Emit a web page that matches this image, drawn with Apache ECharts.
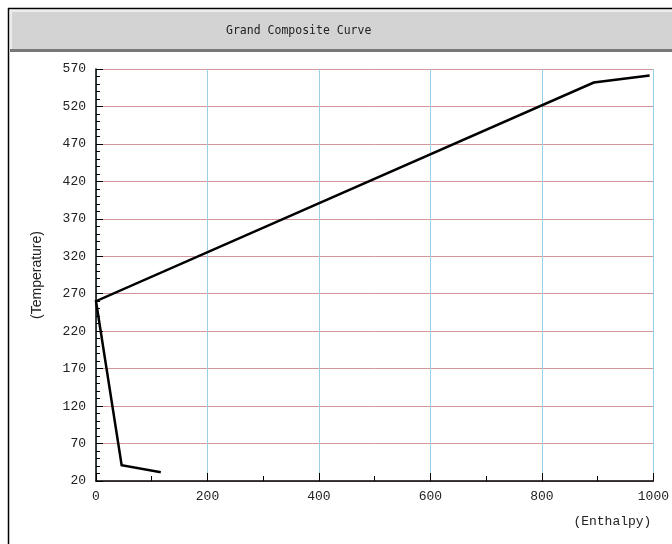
<!DOCTYPE html>
<html>
<head>
<meta charset="utf-8">
<script src="https://cdn.jsdelivr.net/npm/echarts@6/dist/echarts.min.js"></script>
<style>
html,body{margin:0;padding:0;background:#fff;}
#chart{width:672px;height:544px;}
</style>
</head>
<body>
<div id="chart"></div>
<script>
// Data
const titleText = "Grand Composite Curve";
const xAxisName = "(Enthalpy)";
const yAxisName = "(Temperature)";
const enthalpy    = [114, 46, 0, 893, 991];
const temperature = [32, 41, 260, 552, 561];
const xTicks = [0, 200, 400, 600, 800, 1000];
const yTicks = [20, 70, 120, 170, 220, 270, 320, 370, 420, 470, 520, 570];

const points = enthalpy.map((x, i) => [x, temperature[i]]);
const mono = "'DejaVu Sans Mono', 'Liberation Mono', monospace";
const mono2 = "'Liberation Mono', 'DejaVu Sans Mono', monospace";

const chart = echarts.init(document.getElementById('chart'), null, {renderer: 'canvas'});
chart.setOption({
  animation: false,
  backgroundColor: '#ffffff',
  graphic: [
    {type: 'rect', z: -10, shape: {x: 10, y: 10, width: 662, height: 42}, style: {fill: '#d3d3d3'}},
    {type: 'rect', z: -9, shape: {x: 10, y: 10, width: 662, height: 2}, style: {fill: '#ececec'}},
    {type: 'rect', z: -9, shape: {x: 10, y: 10, width: 2, height: 40}, style: {fill: '#ececec'}},
    {type: 'rect', z: -9, shape: {x: 10, y: 49, width: 662, height: 3}, style: {fill: '#777777'}},
    {type: 'line', z: -8, shape: {x1: 8, y1: 8.5, x2: 672, y2: 8.5}, style: {stroke: '#000', lineWidth: 1.5}},
    {type: 'line', z: -8, shape: {x1: 8.5, y1: 8, x2: 8.5, y2: 544}, style: {stroke: '#000', lineWidth: 1.5}}
  ],
  title: {
    text: titleText,
    left: 226,
    top: 25,
    padding: 0,
    textStyle: {fontFamily: mono, fontSize: 11.5, fontWeight: 'normal', color: '#222'}
  },
  grid: {left: 96, right: 17, top: 69, bottom: 63, containLabel: false},
  xAxis: {
    type: 'value',
    min: xTicks[0],
    max: xTicks[xTicks.length - 1],
    interval: 200,
    name: xAxisName,
    nameLocation: 'end',
    nameGap: -2,
    nameTextStyle: {fontFamily: mono2, fontSize: 13, color: '#222', align: 'right', verticalAlign: 'top', padding: [34, 0, 0, 0]},
    axisLine: {show: true, lineStyle: {color: '#000', width: 1.5}},
    axisTick: {show: true, inside: true, length: 8, lineStyle: {color: '#000', width: 1}},
    minorTick: {show: true, splitNumber: 2, length: 5, lineStyle: {color: '#000', width: 1}},
    axisLabel: {fontFamily: mono2, fontSize: 13, color: '#222', margin: 9, formatter: v => String(v)},
    splitLine: {show: true, lineStyle: {color: '#98cfe4', width: 1}}
  },
  yAxis: {
    type: 'value',
    min: yTicks[0],
    max: yTicks[yTicks.length - 1],
    interval: 50,
    name: yAxisName,
    nameLocation: 'middle',
    nameGap: 52,
    nameRotate: 90,
    nameTextStyle: {fontFamily: "'Liberation Sans', Arial, sans-serif", fontSize: 14, color: '#222'},
    axisLine: {show: true, lineStyle: {color: '#000', width: 1.5}},
    axisTick: {show: true, inside: true, length: 7, lineStyle: {color: '#000', width: 1}},
    minorTick: {show: true, splitNumber: 5, length: 4, lineStyle: {color: '#000', width: 1}},
    axisLabel: {fontFamily: mono2, fontSize: 13, color: '#222', margin: 10, formatter: v => String(v)},
    splitLine: {show: true, lineStyle: {color: '#d3969a', width: 1}}
  },
  series: [{
    type: 'line',
    data: points,
    symbol: 'none',
    lineStyle: {color: '#000', width: 2.5, cap: 'square', join: 'miter'},
    z: 5
  }]
});
</script>
</body>
</html>
